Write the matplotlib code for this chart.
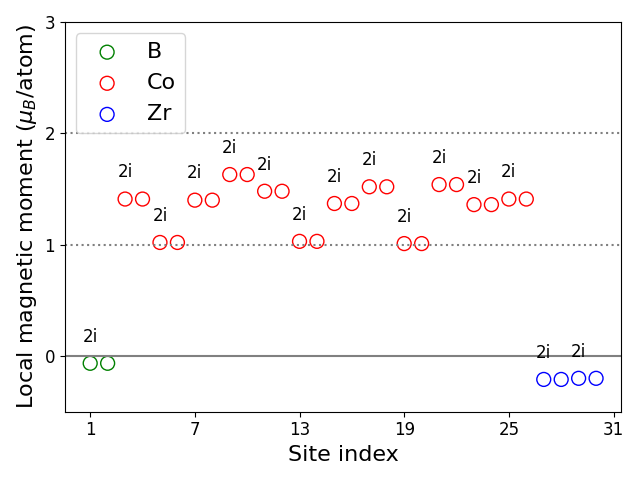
import numpy as np
import matplotlib
matplotlib.use('Agg')
import matplotlib.pyplot as plt

b_sites = [1, 2]
b_moments = [-0.065, -0.065]

co_sites = list(range(3, 27))
co_moments = [1.41, 1.41, 1.02, 1.02, 1.40, 1.40, 1.63, 1.63, 1.48, 1.48,
              1.03, 1.03, 1.37, 1.37, 1.52, 1.52, 1.01, 1.01, 1.54, 1.54,
              1.36, 1.36, 1.41, 1.41]

zr_sites = [27, 28, 29, 30]
zr_moments = [-0.21, -0.21, -0.20, -0.20]

wyckoff = '2i'

fig, ax = plt.subplots(figsize=(6.4, 4.8))

ax.axhline(0, color='gray', lw=1.5)
ax.axhline(1, color='gray', ls=':', lw=1.5)
ax.axhline(2, color='gray', ls=':', lw=1.5)

ax.scatter(b_sites, b_moments, s=100, facecolors='none', edgecolors='green', label='B')
ax.scatter(co_sites, co_moments, s=100, facecolors='none', edgecolors='red', label='Co')
ax.scatter(zr_sites, zr_moments, s=100, facecolors='none', edgecolors='blue', label='Zr')

sites = b_sites + co_sites + zr_sites
moments = b_moments + co_moments + zr_moments
for i in range(0, len(sites), 2):
    ax.text(sites[i], moments[i] + 0.24, wyckoff, ha='center', va='center', fontsize=12)

ax.set_ylim(-0.5, 3)
ax.set_xticks([1, 7, 13, 19, 25, 31])
ax.set_yticks([0, 1, 2, 3])
ax.tick_params(labelsize=12)
ax.set_xlabel('Site index', fontsize=16)
ax.set_ylabel(r'Local magnetic moment ($\mu_B$/atom)', fontsize=16)
ax.legend(loc='upper left', fontsize=16)

plt.tight_layout()
plt.savefig('out.png')
